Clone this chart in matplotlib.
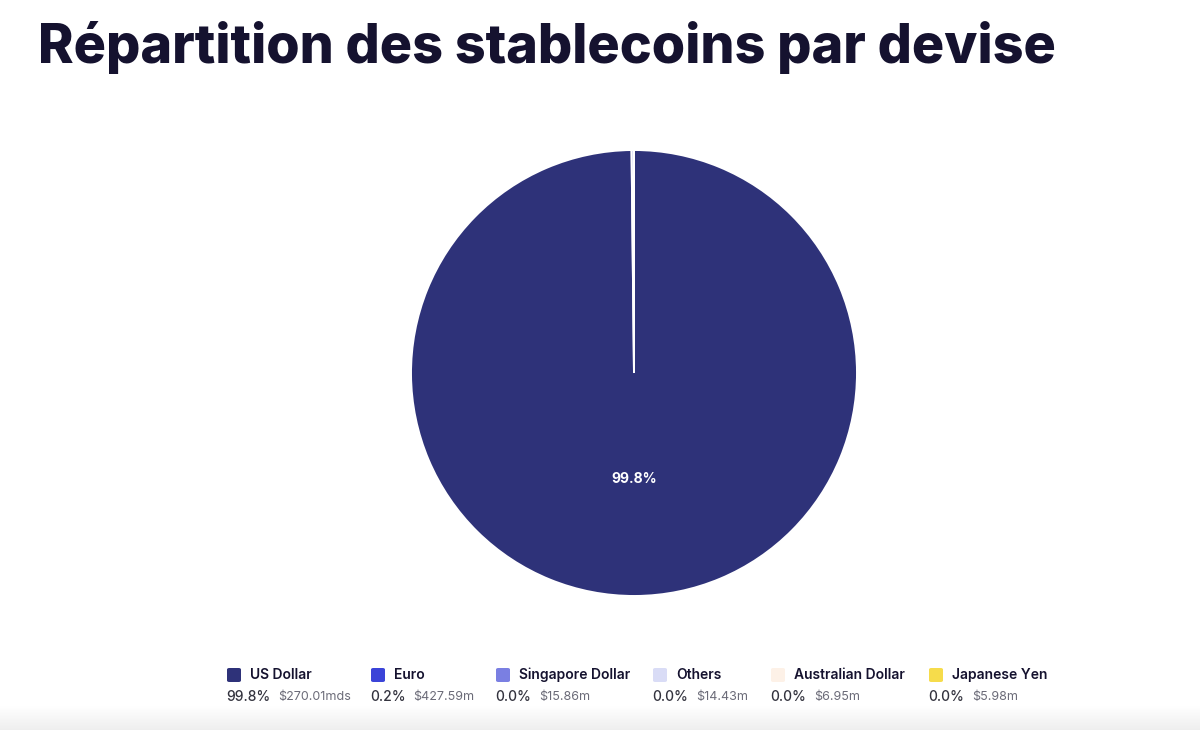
import numpy as np
import matplotlib
matplotlib.use("Agg")
import matplotlib.pyplot as plt
from matplotlib.patches import FancyBboxPatch

# Data
currencies = ["US Dollar", "Euro", "Singapore Dollar", "Others", "Australian Dollar", "Japanese Yen"]
amounts = [270.01e9, 427.59e6, 15.86e6, 14.43e6, 6.95e6, 5.98e6]
amount_labels = ["$270.01mds", "$427.59m", "$15.86m", "$14.43m", "$6.95m", "$5.98m"]
colors = ["#2e3279", "#3b44d8", "#7a7fe2", "#d9dcf6", "#fdf1e7", "#f6dc4b"]

W, H = 1200, 730
plt.rcParams['font.family'] = ['Inter', 'DejaVu Sans']
fig = plt.figure(figsize=(W / 100, H / 100), dpi=100)
fig.patch.set_facecolor("white")

# faint grey fade at the very bottom
grad = fig.add_axes([0, 0, 1, 24 / H])
shade = np.linspace(1.0, 0.935, 50)
img = np.dstack([shade, shade, shade]).reshape(50, 1, 3)
grad.imshow(img, aspect="auto", extent=[0, 1, 0, 1])
grad.axis("off")

fig.text(38 / W, 1 - 47 / H, "Répartition des stablecoins par devise", fontsize=38.8,
         fontweight="heavy", color="#15122f", va="center", ha="left")

# pie
cx, cy, r = 634, 373, 223
ax = fig.add_axes([(cx - r) / W, 1 - (cy + r) / H, 2 * r / W, 2 * r / H])
total = sum(amounts)
pcts = [a / total * 100 for a in amounts]
wedges, _ = ax.pie(amounts, colors=colors, startangle=90, counterclock=False,
                   radius=1, wedgeprops=dict(edgecolor="white", linewidth=1.4))
ax.text(0, -0.475, f"{pcts[0]:.1f}%", color="white", fontsize=10, fontweight="bold",
        ha="center", va="center")
ax.set_xlim(-1, 1)
ax.set_ylim(-1, 1)
ax.axis("off")

# legend
col_x = [227, 371, 496, 653, 771, 929]
for i, name in enumerate(currencies):
    x = col_x[i]
    sq = FancyBboxPatch((x / W, 1 - 682 / H), 14 / W, 14 / H,
                        boxstyle="round,pad=0,rounding_size=0.002",
                        transform=fig.transFigure, facecolor=colors[i], edgecolor="none")
    fig.patches.append(sq)
    fig.text((x + 23) / W, 1 - 675 / H, name, fontsize=10, fontweight="semibold",
             color="#15122f", va="center", ha="left")
    pt = fig.text((x - 1) / W, 1 - 697 / H, f"{pcts[i]:.1f}%", fontsize=10, fontweight="medium",
                  color="#34343f", va="center", ha="left")
    fig.canvas.draw()
    bb = pt.get_window_extent()
    fig.text((bb.x1 + 8) / W, 1 - 697 / H, amount_labels[i], fontsize=9,
             color="#6b6b78", va="center", ha="left")

fig.savefig("out.png", dpi=100, facecolor="white")
